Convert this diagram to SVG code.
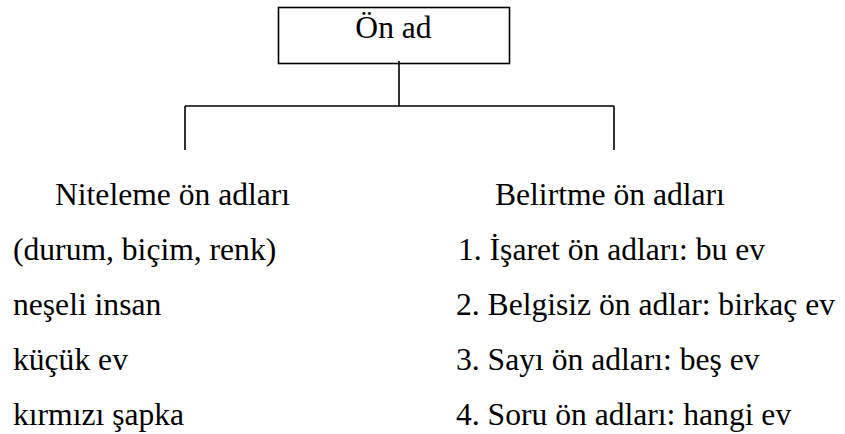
<svg xmlns="http://www.w3.org/2000/svg" width="845" height="434" viewBox="0 0 845 434">
<style>
.t{font-family:"Liberation Serif","Times New Roman",serif;font-size:31.6px;fill:#000}
.ln{stroke:#000;stroke-width:1.6;fill:none}
</style>
<rect width="845" height="434" fill="#fff"/>
<g id="root">
<rect class="ln" x="278.5" y="7.5" width="231" height="56"/>
<text class="t" x="393.5" y="38" text-anchor="middle">Ön ad</text>
</g>
<g id="connectors">
<path class="ln" d="M399 61V106M185 106H614M185 106V150M614 106V150"/>
</g>
<g id="niteleme">
<text class="t" x="55" y="205">Niteleme ön adları</text>
<text class="t" x="13" y="260">(durum, biçim, renk)</text>
<text class="t" x="13" y="315">neşeli insan</text>
<text class="t" x="13" y="370">küçük ev</text>
<text class="t" x="13" y="425">kırmızı şapka</text>
</g>
<g id="belirtme">
<text class="t" x="495" y="205">Belirtme ön adları</text>
<text class="t" x="458" y="260">1. İşaret ön adları: bu ev</text>
<text class="t" x="456" y="315">2. Belgisiz ön adlar: birkaç ev</text>
<text class="t" x="456" y="370">3. Sayı ön adları: beş ev</text>
<text class="t" x="456" y="425">4. Soru ön adları: hangi ev</text>
</g>
</svg>
